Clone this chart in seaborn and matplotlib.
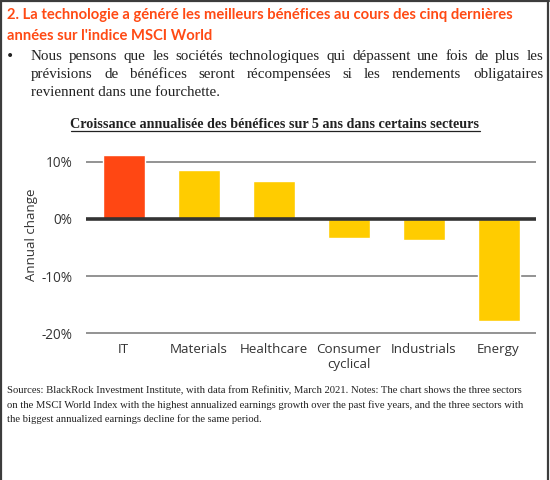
import matplotlib
matplotlib.use("Agg")

import matplotlib.pyplot as plt
import seaborn as sns
import pandas as pd
from matplotlib.lines import Line2D

sectors = ["IT", "Materials", "Healthcare", "Consumer\ncyclical", "Industrials", "Energy"]
growth = [11.1, 8.6, 6.6, -3.4, -3.6, -17.9]
bar_colors = ["#FF4713", "#FFCC00", "#FFCC00", "#FFCC00", "#FFCC00", "#FFCC00"]
yticks = [-20, -10, 0, 10]

heading = ["2. La technologie a généré les meilleurs bénéfices au cours des cinq dernières",
           "années sur l'indice MSCI World"]
bullet = ["Nous pensons que les sociétés technologiques qui dépassent une fois de plus les",
          "prévisions de bénéfices seront récompensées si les rendements obligataires",
          "reviennent dans une fourchette."]
chart_title = "Croissance annualisée des bénéfices sur 5 ans dans certains secteurs"
notes = ["Sources: BlackRock Investment Institute, with data from Refinitiv, March 2021. Notes: The chart shows the three sectors",
         "on the MSCI World Index with the highest annualized earnings growth over the past five years, and the three sectors with",
         "the biggest annualized earnings decline for the same period."]

df = pd.DataFrame({"sector": sectors, "growth": growth})

sns.set_theme(style="white")
plt.rcParams["font.family"] = ["Open Sans", "DejaVu Sans"]

W, H = 550, 480
fig = plt.figure(figsize=(W / 100, H / 100), dpi=100)
ax = fig.add_axes([86 / W, 1 - 334.5 / H, (536 - 86) / W, (334.5 - 152) / H])

sns.barplot(data=df, x="sector", y="growth", hue="sector", palette=bar_colors,
            legend=False, width=0.56, saturation=1, ax=ax, zorder=2)

for t in yticks:
    if t == 0:
        ax.axhline(0, color="#333333", lw=2.6, zorder=3)
    else:
        ax.axhline(t, color="#8a8a8a", lw=1.3, zorder=1)

ax.set_ylim(-20.2, 11.7)
ax.set_xlim(-0.5, 5.5)
ax.set_yticks(yticks)
ax.set_yticklabels([f"{t}%" for t in yticks], fontsize=9.8, color="#333333")
ax.tick_params(axis="x", labelsize=9.6, colors="#333333", length=0, pad=6)
ax.tick_params(axis="y", length=0, pad=10)
ax.set_xlabel("")
ax.set_ylabel("")
for s in ax.spines.values():
    s.set_visible(False)

fig.text(31 / W, 1 - 235 / H, "Annual change", rotation=90, ha="center", va="center",
         fontsize=9.5, color="#333333")


def px(x, y):
    return x / W, 1 - y / H


renderer = fig.canvas.get_renderer()


def justify(line, y, x0, x1, **kw):
    words = line.split()
    arts = [fig.text(*px(x0, y), w, va="baseline", ha="left", **kw) for w in words]
    widths = [a.get_window_extent(renderer).width for a in arts]
    gap = (x1 - x0 - sum(widths)) / (len(words) - 1)
    x = x0
    for a, w in zip(arts, widths):
        a.set_position(px(x, y))
        x += w + gap


# heading
for i, line in enumerate(heading):
    fig.text(*px(7, 15 + 21 * i), line, ha="left", va="center", fontsize=10.6,
             fontweight="bold", color="#FF4A14", family=["Lato", "DejaVu Sans"])

# bullet paragraph
serif = ["Liberation Serif", "DejaVu Serif"]
fig.text(*px(10, 56), "\u2022", ha="center", va="center", fontsize=10, color="#222222",
         family=["DejaVu Sans"])
justify(bullet[0], 60, 31, 543, fontsize=10.8, color="#222222", family=serif)
justify(bullet[1], 78, 31, 543, fontsize=10.8, color="#222222", family=serif)
fig.text(*px(31, 96), bullet[2], ha="left", va="baseline", fontsize=10.8,
         color="#222222", family=serif)

# chart title (underlined)
tt = fig.text(*px(275, 124), chart_title, ha="center", va="center", fontsize=10.2,
              fontweight="bold", color="#222222", family=serif)
bb = tt.get_window_extent(renderer)
fig.add_artist(Line2D([bb.x0 / W, bb.x1 / W], [1 - 131 / H, 1 - 131 / H],
                      color="#222222", lw=0.9, transform=fig.transFigure))

# footnote
for i, line in enumerate(notes):
    fig.text(*px(7, 391 + 14 * i), line, ha="left", va="center", fontsize=7.7,
             color="#222222", family=serif)

# frame
frame_kw = dict(color="#3c3c3c", lw=1.6, transform=fig.transFigure)
fig.add_artist(Line2D([0.5 / W, 548.5 / W], [1 - 1 / H, 1 - 1 / H], **frame_kw))
fig.add_artist(Line2D([1 / W, 1 / W], [0, 1 - 1 / H], **frame_kw))
fig.add_artist(Line2D([548 / W, 548 / W], [0, 1 - 1 / H], **frame_kw))

fig.savefig("out.png", dpi=100)
